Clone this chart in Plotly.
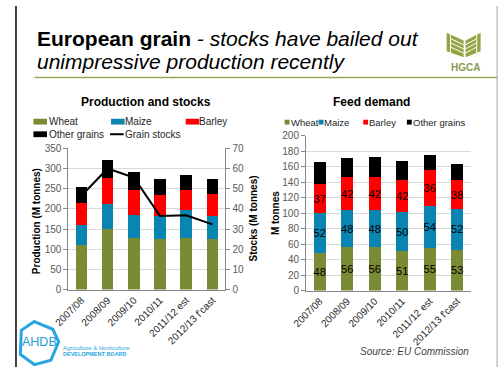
import plotly.graph_objects as go

# ---------------- data ----------------
years = ["2007/08", "2008/09", "2009/10", "2010/11", "2011/12 est", "2012/13 f'cast"]

# Production and stocks (M tonnes), stacked segment values
prod_wheat = [111, 150, 128, 126, 128, 126]
prod_maize = [48, 62, 57, 57, 68, 56]
prod_barley = [56, 65, 62, 52, 51, 54]
prod_other = [40, 43, 44, 39, 38, 39]
grain_stocks = [46.5, 60, 55.5, 36.5, 36.8, 32.3]

# Feed demand (M tonnes), stacked segment values
feed_wheat = [48, 56, 56, 51, 55, 53]
feed_maize = [52, 48, 48, 50, 54, 52]
feed_barley = [37, 42, 42, 42, 47, 38]
feed_barley_labels = [37, 42, 42, 42, 36, 38]
feed_other = [29, 25, 26, 24, 19, 21]

prod_ticks = [0, 50, 100, 150, 200, 250, 300, 350]
stock_ticks = [0, 10, 20, 30, 40, 50, 60, 70]
feed_ticks = [0, 20, 40, 60, 80, 100, 120, 140, 160, 180, 200]

# ---------------- style ----------------
W, H = 500, 373
C_WHEAT = "#7a8b35"
C_MAIZE = "#0a84b0"
C_BARLEY = "#ff0000"
C_OTHER = "#000000"
AXIS = "#868686"
GRID = "#d9d9d9"
TICKC = "#595959"
FONT = "Liberation Sans, Arial, sans-serif"


def px(x):
    return x / W


def py(y):
    return 1 - y / H


fig = go.Figure()

# ---- left chart: production (stacked) ----
for name, vals, col in [("Wheat", prod_wheat, C_WHEAT), ("Maize", prod_maize, C_MAIZE),
                        ("Barley", prod_barley, C_BARLEY), ("Other grains", prod_other, C_OTHER)]:
    fig.add_trace(go.Bar(x=years, y=vals, name=name, marker=dict(color=col, line=dict(width=0)),
                         xaxis="x", yaxis="y", showlegend=False))

fig.add_trace(go.Scatter(x=years, y=grain_stocks, name="Grain stocks", mode="lines",
                         line=dict(color="black", width=2), xaxis="x", yaxis="y2",
                         showlegend=False))

# ---- right chart: feed demand (stacked) ----
for name, vals, labels, col in [("Wheat", feed_wheat, feed_wheat, C_WHEAT),
                                ("Maize", feed_maize, feed_maize, C_MAIZE),
                                ("Barley", feed_barley, feed_barley_labels, C_BARLEY),
                                ("Other grains", feed_other, None, C_OTHER)]:
    fig.add_trace(go.Bar(
        x=years, y=vals, name=name, marker=dict(color=col, line=dict(width=0)),
        text=[str(v) for v in labels] if labels else None,
        textposition="inside" if labels else "none",
        insidetextanchor="middle", constraintext="none", textangle=0,
        textfont=dict(color="black", size=11, family=FONT),
        xaxis="x2", yaxis="y3", showlegend=False))

axis_common = dict(showline=True, linecolor=AXIS, linewidth=1,
                   tickfont=dict(size=10, color=TICKC, family=FONT))
xtickfont = dict(size=10, color="#262626", family=FONT)

fig.update_layout(
    width=W, height=H,
    margin=dict(l=0, r=0, t=0, b=0),
    paper_bgcolor="white", plot_bgcolor="white",
    barmode="stack", bargap=0.56,
    showlegend=False,
    font=dict(family=FONT, color="black"),
    xaxis=dict(domain=[px(55), px(217)], anchor="y", tickangle=-45, ticks="",
               showline=True, linecolor=AXIS, linewidth=1, tickfont=xtickfont),
    yaxis=dict(domain=[py(293), py(147)], range=[0, 350], tickvals=prod_ticks,
               showgrid=True, gridcolor=GRID, gridwidth=1, zeroline=False,
               ticks="outside", ticklen=4, tickcolor=AXIS, **axis_common),
    yaxis2=dict(overlaying="y", side="right", anchor="x", range=[0, 70], tickvals=stock_ticks,
                showgrid=False, zeroline=False, ticks="outside", ticklen=4, tickcolor=AXIS,
                **axis_common),
    xaxis2=dict(domain=[px(300), px(470)], anchor="y3", tickangle=-45, ticks="",
                showline=True, linecolor=AXIS, linewidth=1, tickfont=xtickfont),
    yaxis3=dict(domain=[py(294), py(134)], anchor="x2", range=[0, 200], tickvals=feed_ticks,
                showgrid=True, gridcolor=GRID, gridwidth=1, zeroline=False,
                ticks="outside", ticklen=4, tickcolor=AXIS, **axis_common),
)

shapes = []
annotations = []

# ---- slide frame ----
shapes.append(dict(type="line", xref="paper", yref="paper", x0=px(1), x1=px(1), y0=0, y1=1,
                   line=dict(color="#404040", width=2)))
shapes.append(dict(type="line", xref="paper", yref="paper", x0=px(497), x1=px(497), y0=0, y1=1,
                   line=dict(color="#a6a6a6", width=1)))
# green rule under title
shapes.append(dict(type="line", xref="paper", yref="paper", x0=px(20), x1=px(497), y0=py(74), y1=py(74),
                   line=dict(color="#9ea35e", width=1.5)))

# ---- title ----
annotations.append(dict(xref="paper", yref="paper", x=px(21), y=py(34), xanchor="left", yanchor="middle",
                        showarrow=False, align="left",
                        text="<b>European grain</b><i> - stocks have bailed out</i>",
                        font=dict(size=21, color="black", family=FONT)))
annotations.append(dict(xref="paper", yref="paper", x=px(21), y=py(57.5), xanchor="left", yanchor="middle",
                        showarrow=False, align="left",
                        text="<i>unimpressive production recently</i>",
                        font=dict(size=21, color="black", family=FONT)))

# ---- HGCA logo ----
LOGO_G = "#94a545"
shapes.append(dict(type="path", xref="paper", yref="paper",
                   path=f"M {px(445)},{py(27.7)} L {px(462.5)},{py(35.7)} L {px(462.5)},{py(53)} L {px(445)},{py(46.7)} Z",
                   fillcolor=LOGO_G, line=dict(width=0)))
shapes.append(dict(type="path", xref="paper", yref="paper",
                   path=f"M {px(480)},{py(27.7)} L {px(464.5)},{py(35.7)} L {px(464.5)},{py(53)} L {px(480)},{py(46.7)} Z",
                   fillcolor=LOGO_G, line=dict(width=0)))
for k in range(1, 4):
    d = k * 4.3
    shapes.append(dict(type="line", xref="paper", yref="paper",
                       x0=px(449), y0=py(29.5 + d), x1=px(462.5), y1=py(35.7 + d),
                       line=dict(color="white", width=1)))
    shapes.append(dict(type="line", xref="paper", yref="paper",
                       x0=px(476), y0=py(29.5 + d), x1=px(464.5), y1=py(35.7 + d),
                       line=dict(color="white", width=1)))
shapes.append(dict(type="line", xref="paper", yref="paper", x0=px(449), x1=px(449), y0=py(29), y1=py(48.5),
                   line=dict(color="white", width=1)))
shapes.append(dict(type="line", xref="paper", yref="paper", x0=px(476), x1=px(476), y0=py(29), y1=py(48.5),
                   line=dict(color="white", width=1)))
annotations.append(dict(xref="paper", yref="paper", x=px(464), y=py(64), xanchor="center", yanchor="middle",
                        showarrow=False, text="<b>HGCA</b>",
                        font=dict(size=10, color="#8a9a52", family=FONT)))

# ---- AHDB logo ----
AHDB_C = "#29a6df"
ring = [(20, 326), (39, 334), (45, 347), (37, 366), (20, 370.5), (5.5, 360), (6.5, 335)]
path = "M " + " L ".join(f"{px(x)},{py(y)}" for x, y in ring) + " Z"
shapes.append(dict(type="path", xref="paper", yref="paper", path=path,
                   line=dict(color=AHDB_C, width=3), fillcolor="rgba(0,0,0,0)"))
annotations.append(dict(xref="paper", yref="paper", x=px(25), y=py(347), xanchor="center", yanchor="middle",
                        showarrow=False, text="AHDB", font=dict(size=12.5, color="#1e9cd7", family=FONT)))
annotations.append(dict(xref="paper", yref="paper", x=px(47.5), y=py(353), xanchor="left", yanchor="middle",
                        showarrow=False, text="Agriculture &amp; Horticulture",
                        font=dict(size=6, color=AHDB_C, family=FONT)))
annotations.append(dict(xref="paper", yref="paper", x=px(47.5), y=py(359.5), xanchor="left", yanchor="middle",
                        showarrow=False, text="<b>DEVELOPMENT BOARD</b>",
                        font=dict(size=5.5, color=AHDB_C, family=FONT)))

# ---- source ----
annotations.append(dict(xref="paper", yref="paper", x=px(470), y=py(357), xanchor="right", yanchor="middle",
                        showarrow=False, text="<i>Source: EU Commission</i>",
                        font=dict(size=10, color="#3f3f3f", family=FONT)))

# ---- chart titles ----
annotations.append(dict(xref="paper", yref="paper", x=px(135), y=py(99.5), xanchor="center", yanchor="middle",
                        showarrow=False, text="<b>Production and stocks</b>",
                        font=dict(size=12, color="black", family=FONT)))
annotations.append(dict(xref="paper", yref="paper", x=px(367.5), y=py(99.5), xanchor="center", yanchor="middle",
                        showarrow=False, text="<b>Feed demand</b>",
                        font=dict(size=12, color="black", family=FONT)))

# ---- axis titles ----
annotations.append(dict(xref="paper", yref="paper", x=px(23), y=py(222), xanchor="center", yanchor="middle",
                        showarrow=False, textangle=-90, text="<b>Production (M tonnes)</b>",
                        font=dict(size=10, color="black", family=FONT)))
annotations.append(dict(xref="paper", yref="paper", x=px(246), y=py(220), xanchor="center", yanchor="middle",
                        showarrow=False, textangle=-90, text="<b>Stocks (M tonnes)</b>",
                        font=dict(size=10, color="black", family=FONT)))
annotations.append(dict(xref="paper", yref="paper", x=px(268), y=py(214), xanchor="center", yanchor="middle",
                        showarrow=False, textangle=-90, text="<b>M tonnes</b>",
                        font=dict(size=10, color="black", family=FONT)))

# ---- legends (drawn) ----
def legend_box(x0, x1, yc, h, color):
    shapes.append(dict(type="rect", xref="paper", yref="paper", x0=px(x0), x1=px(x1),
                       y0=py(yc + h / 2), y1=py(yc - h / 2), fillcolor=color, line=dict(width=0)))


def legend_text(x, yc, text, size=10):
    annotations.append(dict(xref="paper", yref="paper", x=px(x), y=py(yc), xanchor="left", yanchor="middle",
                            showarrow=False, text=text, borderpad=0,
                            font=dict(size=size, color="#262626", family=FONT)))


# left legend
row1, row2 = 119.5, 132.5
for (sx, tx, name, col) in [(19, 34, "Wheat", C_WHEAT), (99, 112, "Maize", C_MAIZE),
                            (176, 189, "Barley", C_BARLEY)]:
    legend_box(sx, sx + 14, row1, 6, col)
    legend_text(tx, row1, name)
legend_box(19, 33, row2, 6, C_OTHER)
legend_text(34, row2, "Other grains")
shapes.append(dict(type="line", xref="paper", yref="paper", x0=px(98), x1=px(112), y0=py(row2), y1=py(row2),
                   line=dict(color="black", width=2)))
legend_text(112, row2, "Grain stocks")

# right legend
rrow = 120
for (sx, tx, name, col) in [(278, 283, "Wheat", C_WHEAT), (313, 318, "Maize", C_MAIZE),
                            (359, 364, "Barley", C_BARLEY), (404, 409, "Other grains", C_OTHER)]:
    legend_box(sx, sx + 5, rrow, 5, col)
    legend_text(tx, rrow, name, size=9.5)

fig.update_layout(shapes=shapes, annotations=annotations)

fig.write_html(
    "out.html",
    config={"displayModeBar": False},
    post_script=("document.body.style.margin='0';document.body.style.padding='0';"
                 "document.body.style.overflow='hidden';"
                 "document.documentElement.style.overflow='hidden';"),
)
